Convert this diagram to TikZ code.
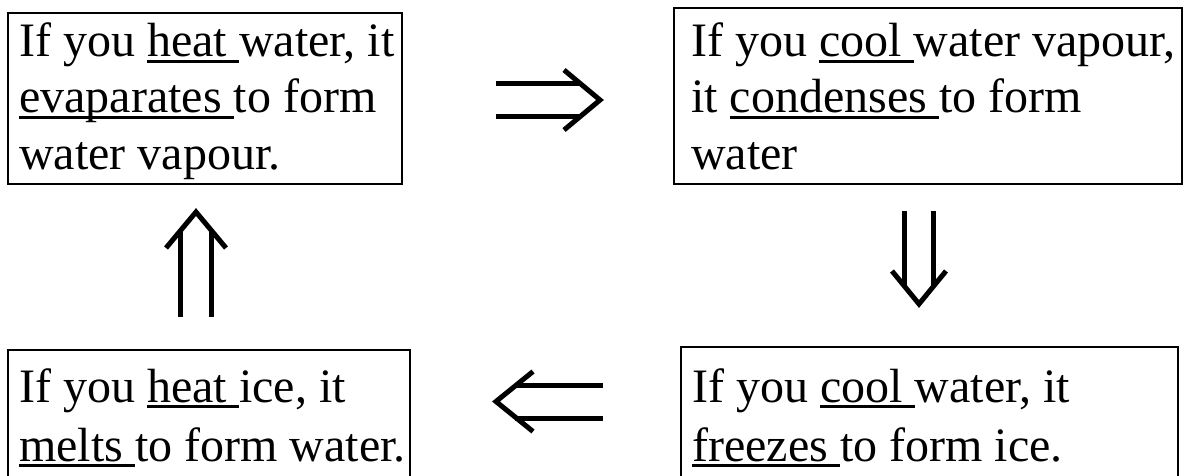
\documentclass[tikz,border=0pt]{standalone}
\usepackage{fontspec}
\setmainfont{Liberation Serif}
\newcommand\myul[1]{\setbox0=\hbox{#1}\rlap{\rule[-6pt]{\wd0}{3pt}}\box0}
\newcommand\dblarr[6]{% #1 start coordinate, #2 angle, #3 length, #4 half gap, #5 head depth, #6 head half width
  \begin{scope}[shift={(#1)}, rotate=#2]
    \draw[arrline] (0,#4) -- ({#3-#5*#4/#6+1},#4) (0,-#4) -- ({#3-#5*#4/#6+1},-#4);
    \draw[arrline, line join=miter] ({#3-#5},#6) -- (#3,0) -- ({#3-#5},-#6);
  \end{scope}}
\tikzset{
  box/.style={draw=black, line width=2pt, rectangle, inner sep=0pt, anchor=north west},
  txt/.style={inner sep=0pt, anchor=base west, font=\fontsize{48pt}{56pt}\selectfont},
  arrline/.style={line width=5pt, black}
}
\begin{document}
\begin{tikzpicture}[x=1pt, y=-1pt]
\useasboundingbox (0,0) rectangle (1183,476);
\clip (0,0) rectangle (1183,476);
% boxes
\node[box, minimum width=394pt, minimum height=171pt] (tl) at (7,12) {};
\node[box, minimum width=508pt, minimum height=176pt] (tr) at (673,7) {};
\node[box, minimum width=402pt, minimum height=134pt] (bl) at (7,349) {};
\node[box, minimum width=497pt, minimum height=138pt] (br) at (680,346) {};
% texts
\node[txt] (tl1) at (19,57) {If you \myul{heat }water, it};
\node[txt] (tl2) at (19,113) {\myul{evaparates }to form};
\node[txt] (tl3) at (19,169) {water vapour.};
\node[txt] (tr1) at (691,57) {If you \myul{cool }water vapour,};
\node[txt] (tr2) at (691,113) {it \myul{condenses }to form};
\node[txt] (tr3) at (691,169) {water};
\node[txt] (bl1) at (19,402) {If you \myul{heat }ice, it};
\node[txt] (bl2) at (19,461) {\myul{melts }to form water.};
\node[txt] (br1) at (692,402) {If you \myul{cool }water, it};
\node[txt] (br2) at (692,461) {\myul{freezes }to form ice.};
% arrows
\coordinate (a1) at (496,100);
\coordinate (a2) at (919,211);
\coordinate (a3) at (603,401.5);
\coordinate (a4) at (196,317);
\dblarr{a1}{0}{104}{16.5}{36}{30}
\dblarr{a2}{-90}{93}{14.5}{33}{27}
\dblarr{a3}{180}{107}{16.5}{37}{30}
\dblarr{a4}{90}{105}{15.5}{36}{30}
\end{tikzpicture}
\end{document}
